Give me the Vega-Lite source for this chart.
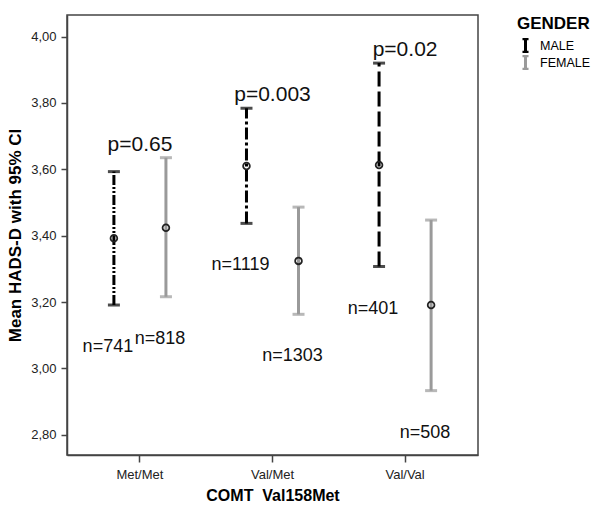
{
  "$schema": "https://vega.github.io/schema/vega-lite/v6.json",
  "autosize": {"type": "none"},
  "width": 411,
  "height": 440,
  "padding": {"left": 67, "top": 15, "right": 122, "bottom": 60},
  "background": "white",
  "config": {
    "font": "Liberation Sans",
    "view": {"stroke": "#444", "strokeWidth": 1.5},
    "axis": {
      "grid": false,
      "domainColor": "#444",
      "domainWidth": 1.5,
      "tickColor": "#444",
      "tickWidth": 1.5,
      "labelFont": "Liberation Sans",
      "labelColor": "#222",
      "titleFont": "Liberation Sans",
      "titleFontWeight": "bold",
      "titleColor": "#000"
    }
  },
  "data": {
    "values": [
      {"geno": "Met/Met", "gender": "MALE", "mean": 3.392, "lower": 3.191, "upper": 3.593, "n": "n=741", "p": "p=0.65"},
      {"geno": "Met/Met", "gender": "FEMALE", "mean": 3.424, "lower": 3.216, "upper": 3.635, "n": "n=818", "p": "p=0.65"},
      {"geno": "Val/Met", "gender": "MALE", "mean": 3.610, "lower": 3.437, "upper": 3.784, "n": "n=1119", "p": "p=0.003"},
      {"geno": "Val/Met", "gender": "FEMALE", "mean": 3.324, "lower": 3.163, "upper": 3.486, "n": "n=1303", "p": "p=0.003"},
      {"geno": "Val/Val", "gender": "MALE", "mean": 3.613, "lower": 3.307, "upper": 3.920, "n": "n=401", "p": "p=0.02"},
      {"geno": "Val/Val", "gender": "FEMALE", "mean": 3.191, "lower": 2.933, "upper": 3.447, "n": "n=508", "p": "p=0.02"}
    ]
  },
  "encoding": {
    "x": {
      "field": "geno",
      "type": "nominal",
      "sort": ["Met/Met", "Val/Met", "Val/Val"],
      "scale": {"type": "band", "paddingInner": 0, "paddingOuter": 0.05},
      "axis": {
        "title": "COMT\u00a0 Val158Met",
        "labelAngle": 0,
        "labelFontSize": 13,
        "tickSize": 7,
        "labelPadding": 6,
        "titleFontSize": 16,
        "titlePadding": 6
      }
    }
  },
  "layer": [
    {
      "transform": [{"filter": "datum.gender === 'FEMALE'"}],
      "mark": {"type": "rule", "strokeWidth": 3},
      "encoding": {
        "xOffset": {"field": "gender", "type": "nominal", "scale": {"domain": ["MALE", "FEMALE"], "paddingInner": 0, "paddingOuter": 0.274}},
        "y": {
          "field": "lower",
          "type": "quantitative",
          "scale": {"domain": [2.739, 4.065], "nice": false, "zero": false},
          "axis": {
            "title": "Mean HADS-D with 95% CI",
            "values": [2.8, 3.0, 3.2, 3.4, 3.6, 3.8, 4.0],
            "labelExpr": "replace(format(datum.value, '.2f'), '.', ',')",
            "labelFontSize": 13,
            "tickSize": 6,
            "labelPadding": 5,
            "titleFontSize": 17,
            "titlePadding": 6
          }
        },
        "y2": {"field": "upper"},
        "color": {
          "field": "gender",
          "type": "nominal",
          "scale": {"domain": ["MALE", "FEMALE"], "range": ["#000000", "#9a9a9a"]},
          "legend": {
            "title": "GENDER",
            "orient": "none",
            "legendX": 450,
            "legendY": 1,
            "padding": 0,
            "titleFontSize": 17,
            "titleFontWeight": "bold",
            "titleColor": "#000",
            "titlePadding": 5,
            "labelFontSize": 12.5,
            "labelColor": "#000",
            "labelOffset": 6,
            "rowPadding": 2,
            "clipHeight": 15,
            "symbolSize": 180,
            "symbolType": "M-0.45,-1H0.45M0,-1V1M-0.45,1H0.45",
            "symbolStrokeWidth": 3,
            "encode": {
              "symbols": {
                "update": {
                  "shape": {"value": "M-0.45,-1H0.45M0,-1V1M-0.45,1H0.45"},
                  "size": {"value": 180},
                  "stroke": {"scale": "color", "field": "value"},
                  "strokeWidth": {"value": 3},
                  "fill": {"value": "transparent"}
                }
              }
            }
          }
        }
      }
    },
    {
      "transform": [{"filter": "datum.gender === 'MALE'"}],
      "mark": {"type": "rule", "strokeWidth": 3},
      "encoding": {
        "xOffset": {"field": "gender", "type": "nominal", "scale": {"domain": ["MALE", "FEMALE"], "paddingInner": 0, "paddingOuter": 0.274}},
        "y": {"field": "lower", "type": "quantitative"},
        "y2": {"field": "upper"},
        "color": {"field": "gender", "type": "nominal"},
        "strokeDash": {
          "field": "geno",
          "type": "nominal",
          "scale": {"domain": ["Met/Met", "Val/Met", "Val/Val"], "range": [[10, 2, 2, 2, 2, 2], [12, 3, 3, 3], [15, 5]]},
          "legend": null
        }
      }
    },
    {
      "mark": {"type": "tick", "size": 12, "thickness": 3, "orient": "horizontal"},
      "encoding": {
        "xOffset": {"field": "gender", "type": "nominal", "scale": {"domain": ["MALE", "FEMALE"], "paddingInner": 0, "paddingOuter": 0.274}},
        "y": {"field": "lower", "type": "quantitative"},
        "color": {"field": "gender", "type": "nominal"}
      }
    },
    {
      "mark": {"type": "tick", "size": 12, "thickness": 3, "orient": "horizontal"},
      "encoding": {
        "xOffset": {"field": "gender", "type": "nominal", "scale": {"domain": ["MALE", "FEMALE"], "paddingInner": 0, "paddingOuter": 0.274}},
        "y": {"field": "upper", "type": "quantitative"},
        "color": {"field": "gender", "type": "nominal"}
      }
    },
    {
      "mark": {"type": "point", "shape": "circle", "size": 45, "filled": false, "stroke": "#222", "strokeWidth": 1.8, "opacity": 1},
      "encoding": {
        "xOffset": {"field": "gender", "type": "nominal", "scale": {"domain": ["MALE", "FEMALE"], "paddingInner": 0, "paddingOuter": 0.274}},
        "y": {"field": "mean", "type": "quantitative"}
      }
    },
    {
      "mark": {"type": "text", "fontSize": 18, "baseline": "alphabetic", "align": "center", "dy": 47, "dx": -6, "color": "#111"},
      "encoding": {
        "xOffset": {"field": "gender", "type": "nominal", "scale": {"domain": ["MALE", "FEMALE"], "paddingInner": 0, "paddingOuter": 0.274}},
        "y": {"field": "lower", "type": "quantitative"},
        "text": {"field": "n", "type": "nominal"}
      }
    },
    {
      "mark": {"type": "text", "fontSize": 21, "baseline": "alphabetic", "align": "center", "dy": -7, "color": "#111"},
      "encoding": {
        "y": {"aggregate": "max", "field": "upper", "type": "quantitative"},
        "text": {"field": "p", "type": "nominal"}
      }
    }
  ]
}
